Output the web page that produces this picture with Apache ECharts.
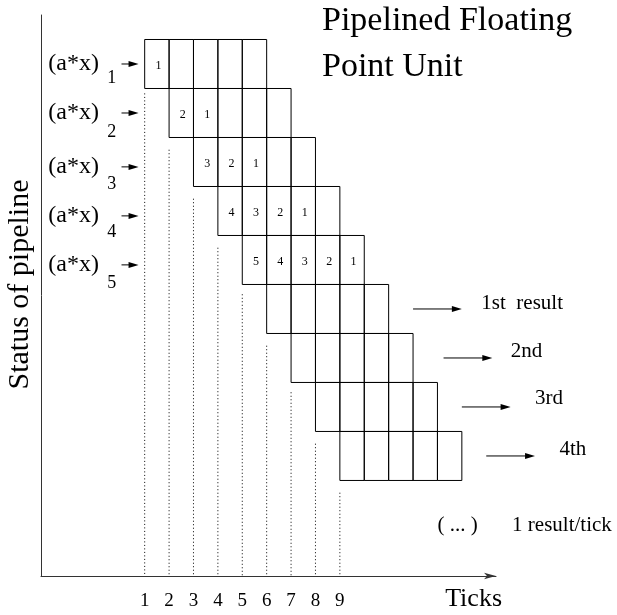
<!DOCTYPE html>
<html><head><meta charset="utf-8">
<script src="https://cdn.jsdelivr.net/npm/echarts@6/dist/echarts.min.js"></script>
<style>html,body{margin:0;padding:0;background:#fff}#c{width:617px;height:615px}</style>
</head><body><div id="c"></div>
<script>
// ---- data ----
const tickValues = [1, 2, 3, 4, 5, 6, 7, 8, 9];
const tickLabels = ['1', '2', '3', '4', '5', '6', '7', '8', '9'];
const rowStarts = [0, 1, 2, 3, 4, 5, 6, 7, 8];      // first pipeline column of each row
const cellsPerRow = 5;                               // pipeline stages
const cellNumbers = [['1'], ['2', '1'], ['3', '2', '1'], ['4', '3', '2', '1'], ['5', '4', '3', '2', '1'], [], [], [], []];
const dotStarts = [1.1, 2.25, 3.25, 4.25, 5.2, 6.25, 7.2, 8.25, 9.25]; // where each dotted tick guide begins
const inputNames = ['(a*x)', '(a*x)', '(a*x)', '(a*x)', '(a*x)'];
const inputY = [0.5, 1.5, 2.6, 3.6, 4.6];
const inputSubs = ['1', '2', '3', '4', '5'];
const inputSubY = [0.79, 1.89, 2.95, 3.93, 4.97];
const inputArrowX = [0.05, 0.75];
const resultNames = ['1st  result', '2nd', '3rd', '4th'];
const resultArrowY = [5.5, 6.5, 7.5, 8.5];
const resultArrowX = [[12.0, 14.0], [13.25, 15.25], [14.0, 16.0], [15.0, 17.0]];
const resultLabelX = [14.8, 16.0, 17.0, 18.0];
const resultLabelY = [5.38, 6.36, 7.33, 8.36];
const noteTexts = ['( ... )', '1 result/tick'];
const noteX = [13.0, 16.06];
const noteY = [9.91, 9.91];
const xMin = -3.25, xMax = 15.4, yMin = -0.5, yMax = 10.95;

const FONT = 'Liberation Serif, Times New Roman, serif';

// ---- build series data ----
const cellData = [];
rowStarts.forEach((c0, r) => {
  for (let j = 0; j < cellsPerRow; j++) {
    cellData.push([c0 + j + 1, r, cellNumbers[r][j] || '']);
  }
});
const dotData = tickValues.map((k, i) => [k, dotStarts[i]]);
const inArrowData = inputY.map(y => [inputArrowX[0], inputArrowX[1], y]);
const outArrowData = resultArrowY.map((y, i) => [resultArrowX[i][0], resultArrowX[i][1], y]);

function textSeries(data, size, align) {
  return {
    type: 'custom', coordinateSystem: 'cartesian2d', clip: false, silent: true,
    data: data,
    encode: { x: 0, y: 1 },
    renderItem: (params, api) => {
      const p = api.coord([api.value(0), api.value(1)]);
      return {
        type: 'text', x: p[0], y: p[1],
        style: { text: data[params.dataIndex][2], fill: '#000', font: size + 'px ' + FONT, align: align, verticalAlign: 'middle' }
      };
    }
  };
}

function arrowItem(api, x1, x2, y) {
  const a = api.coord([x1, y]);
  const b = api.coord([x2, y]);
  const L = 10, H = 3;
  return {
    type: 'group', children: [
      { type: 'line', shape: { x1: a[0], y1: a[1], x2: b[0] - L + 1, y2: b[1] }, style: { stroke: '#000', lineWidth: 1 } },
      { type: 'polygon', shape: { points: [[b[0], b[1]], [b[0] - L, b[1] - H], [b[0] - L, b[1] + H]] }, style: { fill: '#000' } }
    ]
  };
}

const option = {
  backgroundColor: '#fff',
  animation: false,
  title: {
    text: 'Pipelined Floating\nPoint Unit',
    left: 322, top: -2, padding: 0,
    textStyle: { fontFamily: FONT, fontSize: 34, fontWeight: 'normal', lineHeight: 46, color: '#000' }
  },
  grid: { left: 41, top: 15, width: 455, height: 561, outerBoundsMode: 'none', containLabel: false },
  xAxis: {
    type: 'value', min: xMin, max: xMax,
    name: 'Ticks', nameLocation: 'end', nameGap: 0,
    nameTextStyle: { fontFamily: FONT, fontSize: 26, color: '#000', align: 'right', verticalAlign: 'top', padding: [10, -6, 0, 0] },
    axisLine: { onZero: false, symbol: ['none', 'arrow'], symbolSize: [5, 12], lineStyle: { color: '#333', width: 1 } },
    axisTick: { show: false },
    splitLine: { show: false },
    axisLabel: {
      customValues: tickValues,
      formatter: v => tickLabels[tickValues.indexOf(v)],
      fontFamily: FONT, fontSize: 19, color: '#000', margin: 16
    }
  },
  yAxis: {
    type: 'value', inverse: true, min: yMin, max: yMax,
    name: 'Status of pipeline', nameLocation: 'middle', nameRotate: 90, nameGap: 6,
    nameTextStyle: { fontFamily: FONT, fontSize: 30, color: '#000', padding: [0, 0, 0, 22] },
    axisLine: { onZero: false, lineStyle: { color: '#333', width: 1 } },
    axisTick: { show: false }, axisLabel: { show: false }, splitLine: { show: false }
  },
  series: [
    {
      type: 'custom', coordinateSystem: 'cartesian2d', clip: false, silent: true,
      data: cellData, encode: { x: 0, y: 1 },
      renderItem: (params, api) => {
        const p = api.coord([api.value(0), api.value(1)]);
        const s = api.size([1, 1]);
        const lbl = cellData[params.dataIndex][2];
        return {
          type: 'group', children: [
            { type: 'rect', shape: { x: p[0], y: p[1], width: s[0], height: s[1] }, style: { fill: 'none', stroke: '#000', lineWidth: 1 } },
            { type: 'text', x: p[0] + s[0] / 2 + 1.5, y: p[1] + s[1] / 2 + 1.5, style: { text: lbl, fill: '#000', font: '12px ' + FONT, align: 'center', verticalAlign: 'middle' } }
          ]
        };
      }
    },
    {
      type: 'custom', coordinateSystem: 'cartesian2d', clip: false, silent: true,
      data: dotData, encode: { x: 0, y: 1 },
      renderItem: (params, api) => {
        const a = api.coord([api.value(0), api.value(1)]);
        const b = api.coord([api.value(0), yMax]);
        return { type: 'line', shape: { x1: a[0], y1: a[1], x2: b[0], y2: b[1] }, style: { stroke: '#000', lineWidth: 1, lineDash: [1, 2.5] } };
      }
    },
    {
      type: 'custom', coordinateSystem: 'cartesian2d', clip: false, silent: true,
      data: inArrowData, encode: { x: [0, 1], y: 2 },
      renderItem: (params, api) => arrowItem(api, api.value(0), api.value(1), api.value(2))
    },
    {
      type: 'custom', coordinateSystem: 'cartesian2d', clip: false, silent: true,
      data: outArrowData, encode: { x: [0, 1], y: 2 },
      renderItem: (params, api) => arrowItem(api, api.value(0), api.value(1), api.value(2))
    },
    textSeries(inputNames.map((t, i) => [-2.95, inputY[i], t]), 24, 'left'),
    textSeries(inputSubs.map((t, i) => [-0.35, inputSubY[i], t]), 18, 'center'),
    textSeries(resultNames.map((t, i) => [resultLabelX[i], resultLabelY[i], t]), 21, 'left'),
    textSeries(noteTexts.map((t, i) => [noteX[i], noteY[i], t]), 21, 'left')
  ]
};
const chart = echarts.init(document.getElementById('c'), null, { renderer: 'canvas' });
chart.setOption(option);
</script></body></html>
